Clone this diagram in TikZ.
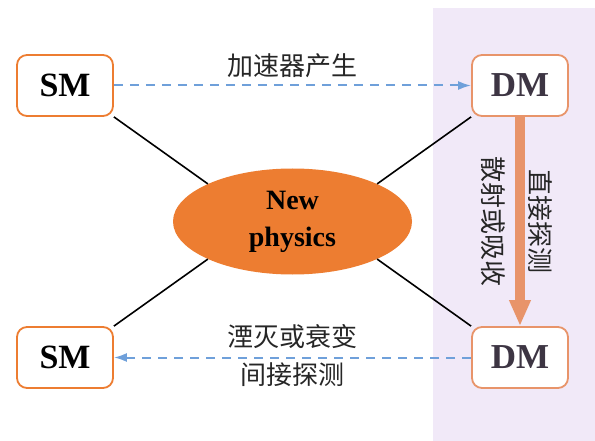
\documentclass[tikz,border=0pt]{standalone}
\usepackage{fontspec}
\setmainfont{Liberation Serif}
\newfontfamily\cjk{Noto Sans CJK SC}
\usepackage{xcolor}
\usetikzlibrary{arrows, arrows.meta, positioning, shapes.geometric}

\definecolor{smorange}{HTML}{ED7D31}
\definecolor{dmorange}{HTML}{E8946A}
\definecolor{panelbg}{HTML}{F1E9F8}
\definecolor{dashblue}{HTML}{6FA0DA}
\definecolor{dmtext}{HTML}{3D3543}

\begin{document}
\begin{tikzpicture}[x=1pt,y=-1pt,node distance=455pt,on grid,auto]
    \tikzstyle{smbox}=[shape=rectangle,rounded corners=10pt,draw=smorange,line width=1.8pt,fill=white,
        minimum width=96pt,minimum height=61pt,font=\bfseries\fontsize{34}{40}\selectfont]
    \tikzstyle{dmbox}=[smbox,draw=dmorange,text=dmtext,font=\bfseries\fontsize{35}{40}\selectfont]
    \tikzstyle{blob}=[shape=ellipse,fill=smorange,inner sep=0pt,minimum width=239pt,minimum height=106pt,
        align=center,font=\bfseries\fontsize{28}{37}\selectfont]
    \tikzstyle{link}=[draw,black,line width=1.6pt]
    \tikzstyle{dashline}=[draw=dashblue,line width=2pt,dash pattern=on 9pt off 7pt,-{Latex[length=13pt,width=9pt]}]
    \tikzstyle{zh}=[font=\cjk\fontsize{26}{30}\selectfont,text=black!85]

    \useasboundingbox (0,0) rectangle (595,441);
    \fill[panelbg] (433,8) rectangle (595,441);

    \node[smbox] (SMa) at (65,85.5) {SM};
    \node[dmbox, right=of SMa] (DMa) {DM};
    \node[smbox, below=272pt of SMa] (SMb) {SM};
    \node[dmbox, right=of SMb] (DMb) {DM};
    \node[blob] (NP) at (292.5,221.5) {New\\physics};

    \path[link]
    (SMa.south east) edge (NP.north west)
    (DMa.south west) edge (NP.north east)
    (SMb.north east) edge (NP.south west)
    (DMb.north west) edge (NP.south east)
    ;

    \path (SMa) edge[dashline] node[zh, above=20pt, anchor=center] {加速器产生} (DMa);
    \path (DMb) edge[dashline] node[zh, above=21pt, anchor=center] {湮灭或衰变}
        node[zh, below=17pt, anchor=center] {间接探测} (SMb);

    \draw[draw=dmorange,line width=10pt,-{Triangle[length=26pt,width=20pt]}] (DMa.south) -- (DMb.north)
        node[zh, midway, anchor=center, xshift=20pt, rotate=-90] {直接探测}
        node[zh, midway, anchor=center, xshift=-27pt, rotate=-90] {散射或吸收};
\end{tikzpicture}
\end{document}
